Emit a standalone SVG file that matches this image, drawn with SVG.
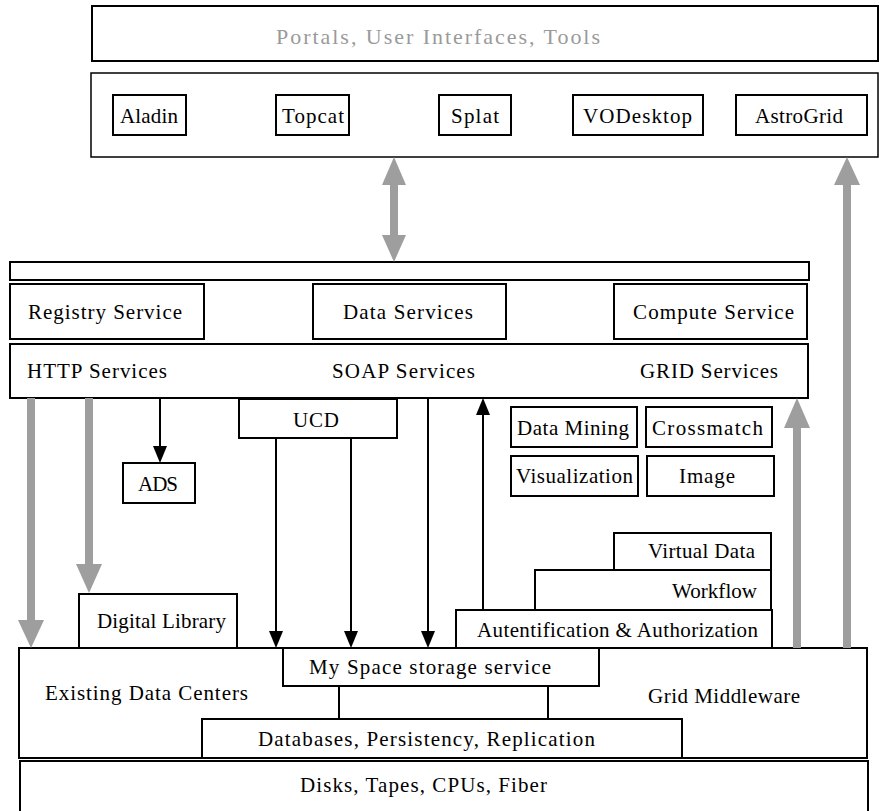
<svg xmlns="http://www.w3.org/2000/svg" width="879" height="811" viewBox="0 0 879 811">
  <style>
    .box { fill: #fff; stroke: #000; stroke-width: 2; }
    .thin { fill: #fff; stroke: #000; stroke-width: 1.5; }
    .lbl { font-family: "Liberation Serif", "Times New Roman", serif; font-size: 21px; fill: #000; }
    .title { font-family: "Liberation Serif", "Times New Roman", serif; font-size: 22px; fill: #9a9a9a; }
    .wire { stroke: #000; stroke-width: 2; fill: none; }
    .gshaft { fill: #9e9e9e; }
    .ghead { fill: #9e9e9e; }
    .bhead { fill: #000; }
  </style>

  <rect width="879" height="811" fill="#fff"/>

  <!-- client tier -->
  <g id="portals">
    <rect class="box" x="92" y="6" width="786" height="55" stroke-width="2.5"/>
    <text class="title" x="276" y="44" textLength="324" lengthAdjust="spacing">Portals, User Interfaces, Tools</text>
  </g>
  <g id="tools">
    <rect class="thin" x="91" y="73" width="787" height="84"/>
  </g>
  <g id="aladin">
    <rect class="box" x="113" y="95" width="73" height="40"/>
    <text class="lbl" x="120" y="123" textLength="58" lengthAdjust="spacing">Aladin</text>
  </g>
  <g id="topcat">
    <rect class="box" x="276" y="95" width="73" height="40"/>
    <text class="lbl" x="282" y="123" textLength="62" lengthAdjust="spacing">Topcat</text>
  </g>
  <g id="splat">
    <rect class="box" x="439" y="95" width="72" height="40"/>
    <text class="lbl" x="451" y="123" textLength="48" lengthAdjust="spacing">Splat</text>
  </g>
  <g id="vodesktop">
    <rect class="box" x="573" y="95" width="130" height="40"/>
    <text class="lbl" x="583" y="123" textLength="109" lengthAdjust="spacing">VODesktop</text>
  </g>
  <g id="astrogrid">
    <rect class="box" x="736" y="95" width="131" height="40"/>
    <text class="lbl" x="755" y="123" textLength="88" lengthAdjust="spacing">AstroGrid</text>
  </g>

  <!-- service tier -->
  <g id="service-bar">
    <rect class="box" x="10" y="262" width="799" height="18"/>
  </g>
  <g id="registry">
    <rect class="box" x="10" y="284" width="194" height="55"/>
    <text class="lbl" x="28" y="319" textLength="154" lengthAdjust="spacing">Registry Service</text>
  </g>
  <g id="data-services">
    <rect class="box" x="313" y="284" width="193" height="55"/>
    <text class="lbl" x="343" y="319" textLength="130" lengthAdjust="spacing">Data Services</text>
  </g>
  <g id="compute">
    <rect class="box" x="614" y="284" width="193" height="55"/>
    <text class="lbl" x="633" y="319" textLength="161" lengthAdjust="spacing">Compute Service</text>
  </g>
  <g id="protocols">
    <rect class="box" x="10" y="344" width="798" height="54"/>
    <text class="lbl" x="27" y="378" textLength="140" lengthAdjust="spacing">HTTP Services</text>
    <text class="lbl" x="332" y="378" textLength="143" lengthAdjust="spacing">SOAP Services</text>
    <text class="lbl" x="640" y="378" textLength="138" lengthAdjust="spacing">GRID Services</text>
  </g>

  <g id="ucd">
    <rect class="box" x="239" y="399" width="158" height="39"/>
    <text class="lbl" x="293" y="427" textLength="46" lengthAdjust="spacing">UCD</text>
  </g>
  <g id="ads">
    <rect class="box" x="123" y="463" width="72" height="40"/>
    <text class="lbl" x="138" y="491" textLength="40" lengthAdjust="spacing">ADS</text>
  </g>
  <g id="data-mining">
    <rect class="box" x="511" y="407" width="126" height="40"/>
    <text class="lbl" x="517" y="435" textLength="112" lengthAdjust="spacing">Data Mining</text>
  </g>
  <g id="crossmatch">
    <rect class="box" x="646" y="407" width="126" height="40"/>
    <text class="lbl" x="652" y="435" textLength="111" lengthAdjust="spacing">Crossmatch</text>
  </g>
  <g id="visualization">
    <rect class="box" x="511" y="456" width="127" height="40"/>
    <text class="lbl" x="516" y="483" textLength="117" lengthAdjust="spacing">Visualization</text>
  </g>
  <g id="image">
    <rect class="box" x="647" y="456" width="127" height="40"/>
    <text class="lbl" x="679" y="483" textLength="56" lengthAdjust="spacing">Image</text>
  </g>

  <g id="virtual-data">
    <rect class="box" x="614" y="533" width="157" height="37"/>
    <text class="lbl" x="648" y="558" textLength="107" lengthAdjust="spacing">Virtual Data</text>
  </g>
  <g id="workflow">
    <rect class="box" x="535" y="570" width="236" height="40"/>
    <text class="lbl" x="672" y="598" textLength="85" lengthAdjust="spacing">Workflow</text>
  </g>
  <g id="auth">
    <rect class="box" x="456" y="610" width="316" height="38"/>
    <text class="lbl" x="477" y="637" textLength="281" lengthAdjust="spacing">Autentification &amp; Authorization</text>
  </g>
  <g id="digital-library">
    <rect class="box" x="79" y="594" width="158" height="54"/>
    <text class="lbl" x="97" y="628" textLength="129" lengthAdjust="spacing">Digital Library</text>
  </g>

  <!-- storage tier -->
  <g id="centers">
    <rect class="box" x="19" y="648" width="848" height="110"/>
    <text class="lbl" x="45" y="700" textLength="203" lengthAdjust="spacing">Existing Data Centers</text>
    <text class="lbl" x="648" y="703" textLength="152" lengthAdjust="spacing">Grid Middleware</text>
  </g>
  <g id="myspace">
    <rect class="box" x="283" y="648" width="316" height="38"/>
    <text class="lbl" x="309" y="674" textLength="242" lengthAdjust="spacing">My Space storage service</text>
  </g>
  <g id="databases">
    <rect class="box" x="202" y="719" width="480" height="39"/>
    <text class="lbl" x="258" y="746" textLength="337" lengthAdjust="spacing">Databases, Persistency, Replication</text>
  </g>
  <g id="hardware">
    <rect class="box" x="20" y="761" width="848" height="55"/>
    <text class="lbl" x="300" y="792" textLength="247" lengthAdjust="spacing">Disks, Tapes, CPUs, Fiber</text>
  </g>

  <g id="connectors">
    <!-- portal <-> service bar, both ways -->
    <rect class="gshaft" x="390" y="183" width="8" height="54"/>
    <polygon class="ghead" points="394,157 382,185 406,185"/>
    <polygon class="ghead" points="394,262 382,235 406,235"/>

    <!-- grid middleware up to tools -->
    <rect class="gshaft" x="843" y="183" width="8" height="465"/>
    <polygon class="ghead" points="847,157 834,185 860,185"/>

    <!-- grid middleware up to GRID services -->
    <rect class="gshaft" x="793" y="426" width="8" height="222"/>
    <polygon class="ghead" points="797,398 784,428 810,428"/>

    <!-- HTTP services down to data centers / digital library -->
    <rect class="gshaft" x="27" y="398" width="8" height="224"/>
    <polygon class="ghead" points="31,648 18,620 44,620"/>
    <rect class="gshaft" x="85" y="398" width="8" height="168"/>
    <polygon class="ghead" points="89,593 76,564 102,564"/>

    <!-- HTTP services to ADS -->
    <line class="wire" x1="160" y1="398" x2="160" y2="448"/>
    <polygon class="bhead" points="160,463 153,446 167,446"/>

    <!-- UCD to storage -->
    <line class="wire" x1="276" y1="438" x2="276" y2="632"/>
    <polygon class="bhead" points="276,648 269,631 283,631"/>
    <line class="wire" x1="351" y1="438" x2="351" y2="632"/>
    <polygon class="bhead" points="351,648 344,631 358,631"/>

    <!-- SOAP services to storage -->
    <line class="wire" x1="428" y1="398" x2="428" y2="632"/>
    <polygon class="bhead" points="428,648 421,631 435,631"/>

    <!-- authorization up to SOAP services -->
    <line class="wire" x1="483" y1="610" x2="483" y2="414"/>
    <polygon class="bhead" points="483,398 476,415 490,415"/>

    <!-- My Space to databases -->
    <line class="wire" x1="339" y1="686" x2="339" y2="719"/>
    <line class="wire" x1="548" y1="686" x2="548" y2="719"/>
  </g>
</svg>
